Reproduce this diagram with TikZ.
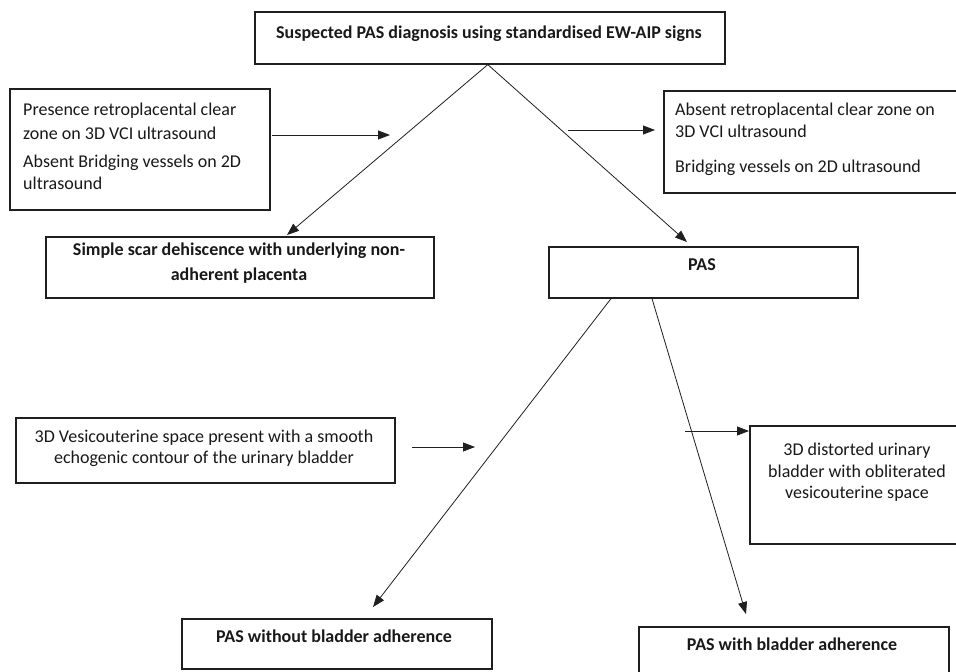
\documentclass[tikz,border=0pt]{standalone}
\usepackage{fontspec}
\setmainfont{Carlito}
\usetikzlibrary{arrows.meta,calc}
\begin{document}
\begin{tikzpicture}[x=1pt,y=-1pt,
  box/.style={draw=black!88, line width=1.6pt, inner sep=0pt, anchor=north west},
  lbl/.style={inner sep=0pt, text=black!90, font=\fontsize{18}{22}\selectfont},
  blbl/.style={inner sep=0pt, text=black!90, font=\fontsize{18}{22}\selectfont\bfseries},
  conn/.style={draw=black!88, line width=0.8pt, -{Triangle[length=12pt,width=9pt]}}]
\fill[white] (0,0) rectangle (956,672);
\useasboundingbox (0,0) rectangle (956,672);

% boxes
\node[box, minimum width=470pt, minimum height=52pt]  (top)   at (254,11)  {};
\node[box, minimum width=260pt, minimum height=121pt] (left)  at (9,88)    {};
\node[box, minimum width=294pt, minimum height=102pt] (right) at (663,90)  {};
\node[box, minimum width=388pt, minimum height=61pt]  (scar)  at (45,236)  {};
\node[box, minimum width=309pt, minimum height=51pt]  (pas)   at (548,246) {};
\node[box, minimum width=379pt, minimum height=65pt]  (ves)   at (15,417)  {};
\node[box, minimum width=208pt, minimum height=118pt] (dist)  at (749,425) {};
\node[box, minimum width=310pt, minimum height=50pt]  (pwo)   at (181,618) {};
\node[box, minimum width=310pt, minimum height=50pt]  (pw)    at (638,626) {};

% texts
\node[blbl, anchor=base] (ttop) at (489,38) {Suspected PAS diagnosis using standardised EW-AIP signs};
\node[lbl, anchor=base west] (tl1a) at (23,115) {Presence retroplacental clear};
\node[lbl, anchor=base west] (tl1b) at (23,139) {zone on 3D VCI ultrasound};
\node[lbl, anchor=base west] (tl2a) at (23,167) {Absent Bridging vessels on 2D};
\node[lbl, anchor=base west] (tl2b) at (23,189) {ultrasound};
\node[lbl, anchor=base west] (tr1a) at (675,115) {Absent retroplacental clear zone on};
\node[lbl, anchor=base west] (tr1b) at (675,137) {3D VCI ultrasound};
\node[lbl, anchor=base west] (tr2a) at (675,172) {Bridging vessels on 2D ultrasound};
\node[blbl, anchor=base] (tscara) at (239,255) {Simple scar dehiscence with underlying non-};
\node[blbl, anchor=base] (tscarb) at (239,280) {adherent placenta};
\node[blbl, anchor=base] (tpas) at (702,270) {PAS};
\node[lbl, anchor=base] (tvesa) at (204,442) {3D Vesicouterine space present with a smooth};
\node[lbl, anchor=base] (tvesb) at (204,463) {echogenic contour of the urinary bladder};
\node[lbl, anchor=base] (tdista) at (857,455) {3D distorted urinary};
\node[lbl, anchor=base] (tdistb) at (857,477) {bladder with obliterated};
\node[lbl, anchor=base] (tdistc) at (857,498) {vesicouterine space};
\node[blbl, anchor=base] (tpwo) at (334,642) {PAS without bladder adherence};
\node[blbl, anchor=base] (tpw) at (792,650) {PAS with bladder adherence};

% free arrow ends
\coordinate (a1s) at (272,135); \coordinate (a1e) at (390,135);
\coordinate (a2s) at (568,130); \coordinate (a2e) at (655,130);
\coordinate (a3s) at (412,447); \coordinate (a3e) at (475,447);
\coordinate (a4s) at (685,431); \coordinate (a4e) at (749,431);

% connectors
\draw[conn] ([xshift=-2pt]top.south) -- ([xshift=242pt,yshift=1pt]scar.north west);
\draw[conn] ([xshift=-2pt]top.south) -- ([xshift=139pt,yshift=4pt]pas.north west);
\draw[conn] (a1s) -- (a1e);
\draw[conn] (a2s) -- (a2e);
\draw[conn] ([xshift=63pt]pas.south west) -- ([xshift=192pt,yshift=11pt]pwo.north west);
\draw[conn] ([xshift=104pt]pas.south west) -- ([xshift=108pt,yshift=12pt]pw.north west);
\draw[conn] (a3s) -- (a3e);
\draw[conn] (a4s) -- (a4e);
\end{tikzpicture}
\end{document}
